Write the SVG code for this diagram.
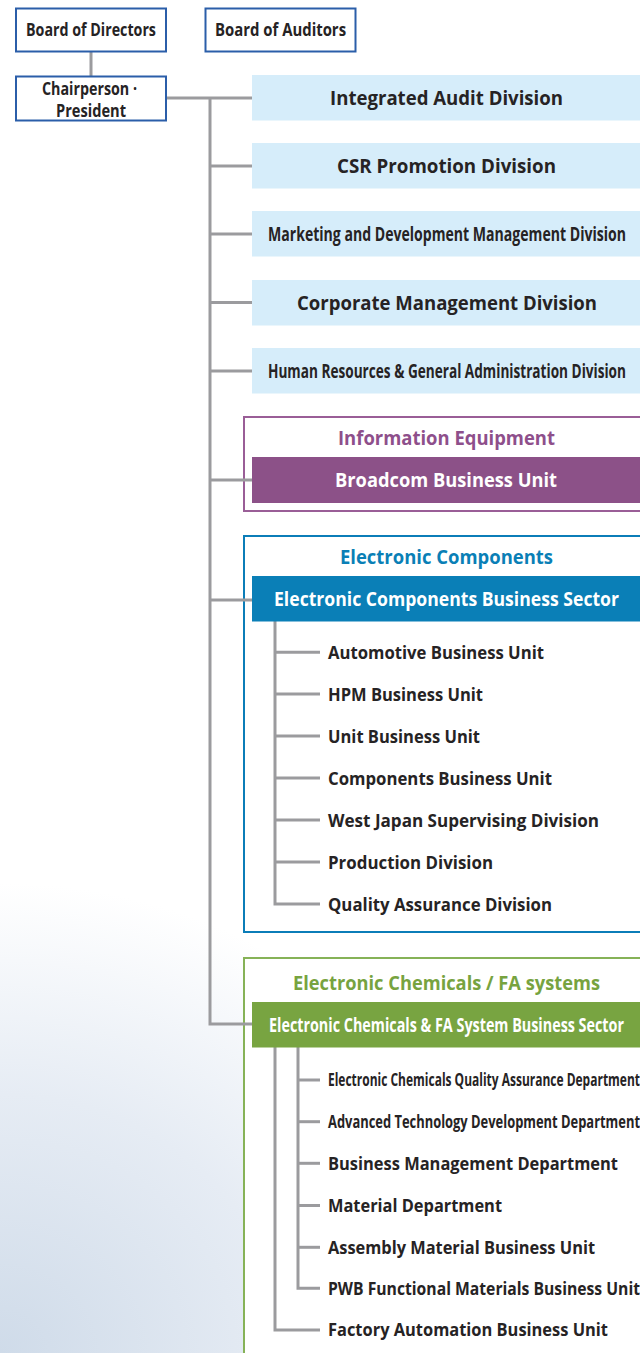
<svg xmlns="http://www.w3.org/2000/svg" width="640" height="1353" viewBox="0 0 640 1353">
  <defs>
    <radialGradient id="bgGlow" gradientUnits="userSpaceOnUse" cx="0" cy="1353" r="470" gradientTransform="scale(1.1 1)">
      <stop offset="0" stop-color="#cfdbe9"/>
      <stop offset="0.55" stop-color="#e6ecf4"/>
      <stop offset="1" stop-color="#ffffff"/>
    </radialGradient>
    <style>
      text { font-family: "Open Sans", "Liberation Sans", sans-serif; font-weight: 700; }
      .top { fill: #ffffff; stroke: #2b5ea9; stroke-width: 2; }
      .div { fill: #d6edfa; }
      .dark { fill: #262324; }
      .white { fill: #ffffff; }
      .t17 { font-size: 17px; }
      .t19 { font-size: 19px; }
      .line { fill: none; stroke: #9b9b9e; stroke-width: 3; }
      .sub { fill: none; stroke: #9b9b9e; stroke-width: 3; }
    </style>
  </defs>

  <!-- page background -->
  <rect x="0" y="0" width="640" height="1353" fill="#ffffff"/>
  <rect x="0" y="860" width="640" height="493" fill="url(#bgGlow)"/>

  <!-- section frames -->
  <rect id="frame-info" x="244" y="417" width="420" height="94" fill="#ffffff" stroke="#9a5e97" stroke-width="2"/>
  <rect id="frame-ec" x="244" y="536" width="420" height="396" fill="#ffffff" stroke="#0b7db8" stroke-width="2"/>
  <rect id="frame-chem" x="244" y="958" width="420" height="420" fill="#ffffff" stroke="#86b257" stroke-width="2"/>

  <!-- connectors -->
  <g id="connectors">
    <line class="line" x1="91" y1="52" x2="91" y2="76"/>
    <line class="line" x1="166" y1="98" x2="252" y2="98"/>
    <polyline class="line" points="210,98 210,1024 252,1024"/>
    <line class="line" x1="210" y1="166" x2="252" y2="166"/>
    <line class="line" x1="210" y1="234" x2="252" y2="234"/>
    <line class="line" x1="210" y1="302.5" x2="252" y2="302.5"/>
    <line class="line" x1="210" y1="371" x2="252" y2="371"/>
    <line class="line" x1="210" y1="480" x2="252" y2="480"/>
    <line class="line" x1="210" y1="600" x2="252" y2="600"/>

    <!-- Electronic Components sub-tree -->
    <polyline class="sub" points="275,621 275,904 320,904"/>
    <line class="sub" x1="275" y1="652.3" x2="320" y2="652.3"/>
    <line class="sub" x1="275" y1="694" x2="320" y2="694"/>
    <line class="sub" x1="275" y1="736" x2="320" y2="736"/>
    <line class="sub" x1="275" y1="778" x2="320" y2="778"/>
    <line class="sub" x1="275" y1="820" x2="320" y2="820"/>
    <line class="sub" x1="275" y1="862" x2="320" y2="862"/>

    <!-- Electronic Chemicals / FA sub-tree -->
    <polyline class="sub" points="275,1047 275,1330 320,1330"/>
    <polyline class="sub" points="298,1047 298,1288.3 320,1288.3"/>
    <line class="sub" x1="298" y1="1080" x2="320" y2="1080"/>
    <line class="sub" x1="298" y1="1121.7" x2="320" y2="1121.7"/>
    <line class="sub" x1="298" y1="1163.3" x2="320" y2="1163.3"/>
    <line class="sub" x1="298" y1="1205.5" x2="320" y2="1205.5"/>
    <line class="sub" x1="298" y1="1247.3" x2="320" y2="1247.3"/>
  </g>

  <!-- governance boxes -->
  <g id="board-directors">
    <rect class="top" x="16" y="8.5" width="150" height="43"/>
    <text class="dark t17" transform="translate(26 36) scale(0.9 1)" x="0" y="0" textLength="144.4" lengthAdjust="spacingAndGlyphs">Board of Directors</text>
  </g>
  <g id="board-auditors">
    <rect class="top" x="205.5" y="8.5" width="150" height="43"/>
    <text class="dark t17" transform="translate(215 36) scale(0.9 1)" x="0" y="0" textLength="145.6" lengthAdjust="spacingAndGlyphs">Board of Auditors</text>
  </g>
  <g id="chairperson">
    <rect class="top" x="16" y="76.5" width="150" height="44"/>
    <text class="dark t17" x="42" y="94.5" textLength="95" lengthAdjust="spacingAndGlyphs">Chairperson ·</text>
    <text class="dark t17" x="56" y="117" textLength="70" lengthAdjust="spacingAndGlyphs">President</text>
  </g>

  <!-- corporate divisions -->
  <g id="integrated-audit">
    <rect class="div" x="252" y="75" width="388" height="45.5"/>
    <text class="dark t19" x="330" y="104.5" textLength="233" lengthAdjust="spacingAndGlyphs">Integrated Audit Division</text>
  </g>
  <g id="csr-promotion">
    <rect class="div" x="252" y="143" width="388" height="45.5"/>
    <text class="dark t19" x="337" y="172.5" textLength="219" lengthAdjust="spacingAndGlyphs">CSR Promotion Division</text>
  </g>
  <g id="marketing-development">
    <rect class="div" x="252" y="211" width="388" height="45.5"/>
    <text class="dark t19" transform="translate(268 240.7) scale(0.7 1)" x="0" y="0" textLength="511.4" lengthAdjust="spacingAndGlyphs">Marketing and Development Management Division</text>
  </g>
  <g id="corporate-management">
    <rect class="div" x="252" y="280" width="388" height="45.5"/>
    <text class="dark t19" x="297" y="310" textLength="300" lengthAdjust="spacingAndGlyphs">Corporate Management Division</text>
  </g>
  <g id="human-resources">
    <rect class="div" x="252" y="348" width="388" height="45.5"/>
    <text class="dark t19" transform="translate(268 378) scale(0.7 1)" x="0" y="0" textLength="511.4" lengthAdjust="spacingAndGlyphs">Human Resources &amp; General Administration Division</text>
  </g>

  <!-- Information Equipment -->
  <g id="information-equipment">
    <text class="t19" fill="#8e4f8b" x="338" y="445" textLength="217" lengthAdjust="spacingAndGlyphs">Information Equipment</text>
  </g>
  <g id="broadcom">
    <rect x="252" y="457" width="388" height="46" fill="#8c5188"/>
    <text class="white t19" x="335" y="487.3" textLength="222" lengthAdjust="spacingAndGlyphs">Broadcom Business Unit</text>
  </g>

  <!-- Electronic Components -->
  <g id="electronic-components">
    <text class="t19" fill="#0a7fb6" x="340" y="564" textLength="213" lengthAdjust="spacingAndGlyphs">Electronic Components</text>
  </g>
  <g id="ec-sector">
    <rect x="252" y="576" width="388" height="45.5" fill="#0a7fb7"/>
    <text class="white t19" transform="translate(274 605.5) scale(0.9 1)" x="0" y="0" textLength="383.3" lengthAdjust="spacingAndGlyphs">Electronic Components Business Sector</text>
  </g>
  <g id="ec-automotive"><text class="dark t17" x="328" y="658.8" textLength="216" lengthAdjust="spacingAndGlyphs">Automotive Business Unit</text></g>
  <g id="ec-hpm"><text class="dark t17" x="328" y="700.5" textLength="155" lengthAdjust="spacingAndGlyphs">HPM Business Unit</text></g>
  <g id="ec-unit"><text class="dark t17" x="328" y="742.5" textLength="152" lengthAdjust="spacingAndGlyphs">Unit Business Unit</text></g>
  <g id="ec-components"><text class="dark t17" x="328" y="784.5" textLength="224" lengthAdjust="spacingAndGlyphs">Components Business Unit</text></g>
  <g id="ec-west-japan"><text class="dark t17" x="328" y="826.5" textLength="271" lengthAdjust="spacingAndGlyphs">West Japan Supervising Division</text></g>
  <g id="ec-production"><text class="dark t17" x="328" y="868.5" textLength="165" lengthAdjust="spacingAndGlyphs">Production Division</text></g>
  <g id="ec-quality"><text class="dark t17" x="328" y="910.5" textLength="224" lengthAdjust="spacingAndGlyphs">Quality Assurance Division</text></g>

  <!-- Electronic Chemicals / FA systems -->
  <g id="electronic-chemicals">
    <text class="t19" fill="#77a33f" x="293" y="990" textLength="307" lengthAdjust="spacingAndGlyphs">Electronic Chemicals / FA systems</text>
  </g>
  <g id="chem-sector">
    <rect x="252" y="1002" width="388" height="45.5" fill="#78a441"/>
    <text class="white t19" transform="translate(269 1032.3) scale(0.7 1)" x="0" y="0" textLength="507.1" lengthAdjust="spacingAndGlyphs">Electronic Chemicals &amp; FA System Business Sector</text>
  </g>
  <g id="chem-quality"><text class="dark t17" transform="translate(328 1086) scale(0.65 1)" x="0" y="0" textLength="480" lengthAdjust="spacingAndGlyphs">Electronic Chemicals Quality Assurance Department</text></g>
  <g id="chem-advanced"><text class="dark t17" transform="translate(328 1127.7) scale(0.75 1)" x="0" y="0" textLength="416" lengthAdjust="spacingAndGlyphs">Advanced Technology Development Department</text></g>
  <g id="chem-business-mgmt"><text class="dark t17" x="328" y="1169.5" textLength="290" lengthAdjust="spacingAndGlyphs">Business Management Department</text></g>
  <g id="chem-material"><text class="dark t17" x="328" y="1211.5" textLength="174" lengthAdjust="spacingAndGlyphs">Material Department</text></g>
  <g id="chem-assembly"><text class="dark t17" x="328" y="1253.5" textLength="267" lengthAdjust="spacingAndGlyphs">Assembly Material Business Unit</text></g>
  <g id="chem-pwb"><text class="dark t17" transform="translate(328 1294.5) scale(0.9 1)" x="0" y="0" textLength="346.7" lengthAdjust="spacingAndGlyphs">PWB Functional Materials Business Unit</text></g>
  <g id="chem-fa"><text class="dark t17" x="328" y="1336" textLength="280" lengthAdjust="spacingAndGlyphs">Factory Automation Business Unit</text></g>
</svg>
